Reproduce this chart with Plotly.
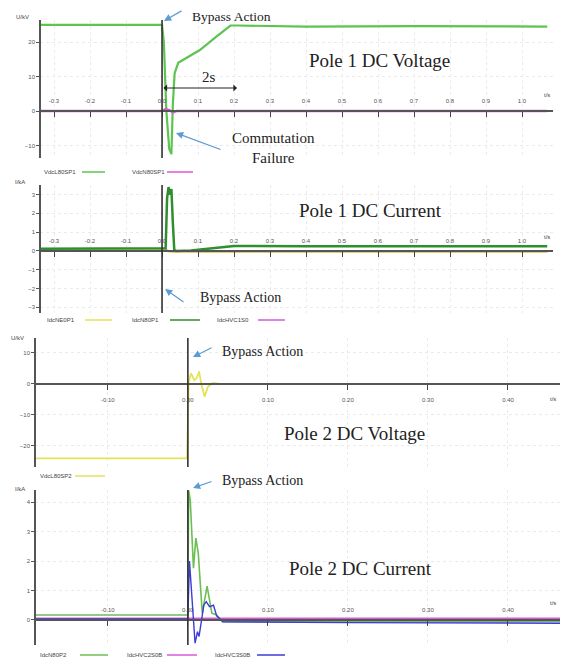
import plotly.graph_objects as go

# page has an 8px body margin; the figure is sized to fit inside the window
OFF = 8
W, H = 556, 651

# ---------------- data ----------------
# Pole 1 DC voltage (kV), time in s
p1v_t = [-0.34, 0.0, 0.005, 0.012, 0.02, 0.026, 0.03, 0.035, 0.045, 0.07, 0.105, 0.15, 0.19, 0.21, 0.4, 0.7, 1.0, 1.07]
p1v_vdcl = [25.0, 25.0, 20.0, 0.0, -11.0, -12.5, 2.0, 11.0, 14.0, 15.5, 17.7, 21.5, 24.8, 24.8, 24.5, 24.6, 24.5, 24.5]
p1v_vdcn_t = [-0.34, 0.0, 0.01, 0.02, 0.03, 0.04, 1.07]
p1v_vdcn = [0.0, 0.0, 0.6, 0.3, -0.4, 0.0, 0.0]

# Pole 1 DC current (kA)
p1i_t = [-0.34, 0.0, 0.01, 0.014, 0.018, 0.022, 0.026, 0.03, 0.034, 0.04, 0.08, 0.12, 0.16, 0.2, 0.4, 0.7, 1.0, 1.07]
p1i_idcn = [0.12, 0.12, 0.15, 2.8, 3.4, 3.0, 3.3, 1.5, 0.05, 0.0, 0.02, 0.1, 0.2, 0.27, 0.25, 0.25, 0.25, 0.25]
p1i_idcne_t = [-0.34, 0.0, 0.02, 1.07]
p1i_idcne = [0.1, 0.1, -0.05, -0.05]
p1i_idchvc_t = [-0.34, 0.0, 0.03, 1.07]
p1i_idchvc = [0.12, 0.12, -0.05, -0.05]

# Pole 2 DC voltage (kV)
p2v_t = [-0.19, -0.001, 0.001, 0.004, 0.008, 0.011, 0.014, 0.017, 0.021, 0.025, 0.031, 0.04, 0.465]
p2v_vdcl = [-24.0, -24.0, 0.5, 3.4, 1.2, 1.8, 4.0, -0.3, -4.1, -0.9, 0.3, 0.0, 0.0]

# Pole 2 DC current (kA)
p2i_t_n = [-0.19, 0.0, 0.001, 0.003, 0.007, 0.01, 0.013, 0.018, 0.024, 0.03, 0.036, 0.043, 0.2, 0.465]
p2i_idcn = [0.17, 0.17, 4.4, 4.07, 1.76, 2.78, 2.27, 0.23, 1.15, 0.23, 0.17, -0.06, -0.05, -0.05]
p2i_t_h3 = [-0.19, 0.0, 0.002, 0.004, 0.009, 0.012, 0.014, 0.02, 0.023, 0.027, 0.032, 0.036, 0.044, 0.2, 0.465]
p2i_idchvc3 = [0.03, 0.03, 2.0, 1.13, -0.79, -0.4, -0.56, 0.51, 0.62, 0.45, 0.5, 0.14, -0.06, -0.09, -0.11]
p2i_t_h2 = [-0.19, 0.465]
p2i_idchvc2 = [0.05, 0.05]

# ticks
p1_xtick_vals = [-0.3, -0.2, -0.1, 0.0, 0.1, 0.2, 0.3, 0.4, 0.5, 0.6, 0.7, 0.8, 0.9, 1.0]
p1_xtick_text = ["-0.3", "-0.2", "-0.1", "0.0", "0.1", "0.2", "0.3", "0.4", "0.5", "0.6", "0.7", "0.8", "0.9", "1.0"]
p2_xtick_vals = [-0.1, 0.0, 0.1, 0.2, 0.3, 0.4]
p2_xtick_text = ["-0.10", "0.00", "0.10", "0.20", "0.30", "0.40"]
y1_ticks = [-10, 0, 10, 20]
y2_ticks = [-3, -2, -1, 0, 1, 2, 3]
y3_ticks = [-20, -10, 0, 10]
y4_ticks = [0, 1, 2, 3, 4]

# colours
GREEN_L = "#5cc44f"
GREEN_D = "#2f8f2f"
GREEN_M = "#6cbf55"
MAGENTA = "#d958d9"
YELLOW = "#e3e35a"
BLUE = "#3c3cd6"
ARROW = "#5b9bd5"

def X(px):
    return (px - OFF) / W

def Y(py):
    return 1 - (py - OFF) / H

fig = go.Figure()

# panel geometry in window pixels: (left, right, top, bottom) and ranges
panels = {
    1: dict(l=40, r=553, t=20, b=158, xr=[-0.339, 1.086], yr=[-13.6, 26.4]),
    2: dict(l=40, r=553, t=185, b=313, xr=[-0.339, 1.086], yr=[-3.3, 3.51]),
    3: dict(l=35, r=560, t=338, b=467, xr=[-0.191, 0.465], yr=[-26.8, 14.8]),
    4: dict(l=35, r=560, t=490, b=645, xr=[-0.191, 0.465], yr=[-0.85, 4.41]),
}

def zero_pos(p):
    d0, d1 = Y(p["b"]), Y(p["t"])
    r0, r1 = p["yr"]
    return d0 + (0 - r0) / (r1 - r0) * (d1 - d0)

# traces
fig.add_trace(go.Scatter(x=p1v_t, y=p1v_vdcl, mode="lines", line=dict(color=GREEN_L, width=2.2), xaxis="x", yaxis="y", showlegend=False))
fig.add_trace(go.Scatter(x=p1v_vdcn_t, y=p1v_vdcn, mode="lines", line=dict(color=MAGENTA, width=2.5), xaxis="x", yaxis="y", showlegend=False))

fig.add_trace(go.Scatter(x=p1i_idchvc_t, y=p1i_idchvc, mode="lines", line=dict(color=MAGENTA, width=1.5), xaxis="x2", yaxis="y2", showlegend=False))
fig.add_trace(go.Scatter(x=p1i_idcne_t, y=p1i_idcne, mode="lines", line=dict(color=YELLOW, width=1.8), xaxis="x2", yaxis="y2", showlegend=False))
fig.add_trace(go.Scatter(x=p1i_t, y=p1i_idcn, mode="lines", line=dict(color=GREEN_D, width=2.5), xaxis="x2", yaxis="y2", showlegend=False))

fig.add_trace(go.Scatter(x=p2v_t, y=p2v_vdcl, mode="lines", line=dict(color=YELLOW, width=1.8), xaxis="x3", yaxis="y3", showlegend=False))

fig.add_trace(go.Scatter(x=p2i_t_h2, y=p2i_idchvc2, mode="lines", line=dict(color=MAGENTA, width=2), xaxis="x4", yaxis="y4", showlegend=False))
fig.add_trace(go.Scatter(x=p2i_t_n, y=p2i_idcn, mode="lines", line=dict(color=GREEN_M, width=1.6), xaxis="x4", yaxis="y4", showlegend=False))
fig.add_trace(go.Scatter(x=p2i_t_h3, y=p2i_idchvc3, mode="lines", line=dict(color=BLUE, width=1.4), xaxis="x4", yaxis="y4", showlegend=False))

tickfont = dict(family="Arial, Liberation Sans", size=6, color="#555")
layout = dict(width=W, height=H, autosize=False, margin=dict(l=0, r=0, t=0, b=0),
              paper_bgcolor="white", plot_bgcolor="white")

for i, p in panels.items():
    sx = "" if i == 1 else str(i)
    xticks = p1_xtick_vals if i <= 2 else p2_xtick_vals
    xtext = p1_xtick_text if i <= 2 else p2_xtick_text
    side = "bottom" if i == 3 else "top"
    layout["xaxis" + sx] = dict(
        domain=[X(p["l"]), min(1.0, X(p["r"]))], range=p["xr"], anchor="free", position=zero_pos(p),
        side=side, tickvals=xticks, ticktext=xtext, tickfont=tickfont,
        ticks="outside" if i == 3 else "inside", ticklen=5, tickcolor="#444", tickwidth=1.2,
        showline=True, linecolor="#555", linewidth=1.5, showgrid=True,
        gridcolor="#ebebeb", griddash="dot", zeroline=False, ticklabelstandoff=5,
    )
    yt = {1: y1_ticks, 2: y2_ticks, 3: y3_ticks, 4: y4_ticks}[i]
    layout["yaxis" + sx] = dict(
        domain=[Y(p["b"]), Y(p["t"])], range=p["yr"], anchor="free",
        position=X(p["l"]), tickvals=yt, tickfont=tickfont, ticks="outside", ticklen=3,
        tickcolor="#555", showline=True, linecolor="#555", linewidth=1.5,
        showgrid=True, gridcolor="#ebebeb", griddash="dot", zeroline=False,
    )

fig.update_layout(**layout)

# vertical t=0 lines
for i in panels:
    sx = "" if i == 1 else str(i)
    fig.add_shape(type="line", xref="x" + sx, yref=("y" + sx + " domain") if sx else "y domain",
                  x0=0, x1=0, y0=0, y1=1, line=dict(color="#333", width=1.6))

ann = []
serif = "Liberation Serif, Times New Roman, serif"

def text(px, py, s, size=14, xanchor="left", align="left"):
    ann.append(dict(x=X(px), y=Y(py), xref="paper", yref="paper", text=s, showarrow=False,
                    xanchor=xanchor, yanchor="middle", align=align,
                    font=dict(family=serif, size=size, color="#222")))

def arrow(hx, hy, tx, ty, color=ARROW, side="end", head=2, width=1.2):
    ann.append(dict(x=X(hx), y=Y(hy), xref="paper", yref="paper", text="", showarrow=True,
                    ax=tx - hx, ay=ty - hy, axref="pixel", ayref="pixel",
                    arrowcolor=color, arrowhead=head, arrowsize=1.2, arrowwidth=width, arrowside=side))

def small(px, py, s, xanchor="left"):
    ann.append(dict(x=X(px), y=Y(py), xref="paper", yref="paper", text=s, showarrow=False,
                    xanchor=xanchor, yanchor="middle", font=dict(family="Arial, Liberation Sans", size=6, color="#444")))

# Panel 1
text(190, 16, "Bypass Action", 13.5)
arrow(164, 21, 183, 10)
text(200, 77, "2s", 15)
arrow(237, 88, 162, 88, color="#222", side="end+start", head=1, width=1)
text(273, 148, "Commutation<br>Failure", 15, xanchor="center", align="center")
arrow(176, 133, 222, 150)
text(307, 60, "Pole 1 DC Voltage", 19)
small(22, 17, "U/kV", "center")
small(547, 95, "t/s", "center")

# Panel 2
text(297, 211, "Pole 1 DC Current", 19)
text(198, 298, "Bypass Action", 14)
arrow(165, 289, 185, 303)
small(20, 182, "I/kA", "center")
small(547, 237, "t/s", "center")

# Panel 3
text(220, 351, "Bypass Action", 14)
arrow(193, 357, 213, 347)
text(282, 433, "Pole 2 DC Voltage", 19)
small(17, 338, "U/kV", "center")
small(553, 399, "t/s", "center")

# Panel 4
text(220, 480, "Bypass Action", 14)
arrow(193, 488, 213, 481)
text(287, 568, "Pole 2 DC Current", 19)
small(20, 489, "I/kA", "center")
small(553, 603, "t/s", "center")

# legend rows (text then line sample)
legend_rows = [
    (172, [("VdcL80SP1", 42, 82, 105, GREEN_L), ("VdcN80SP1", 130, 167, 193, MAGENTA)]),
    (320, [("IdcNE0P1", 45, 85, 112, YELLOW), ("IdcN80P1", 130, 170, 200, GREEN_D), ("IdcHVC1S0", 215, 258, 285, MAGENTA)]),
    (476, [("VdcL80SP2", 38, 75, 105, YELLOW)]),
    (655, [("IdcN80P2", 38, 80, 108, GREEN_M), ("IdcHVC2S0B", 125, 167, 197, MAGENTA), ("IdcHVC3S0B", 213, 257, 285, BLUE)]),
]
for py, items in legend_rows:
    for name, tx, l0, l1, col in items:
        small(tx, py, name)
        fig.add_shape(type="line", xref="paper", yref="paper", x0=X(l0), x1=X(l1), y0=Y(py), y1=Y(py),
                      line=dict(color=col, width=1.5))

fig.update_layout(annotations=ann)
fig.write_html("out.html")
